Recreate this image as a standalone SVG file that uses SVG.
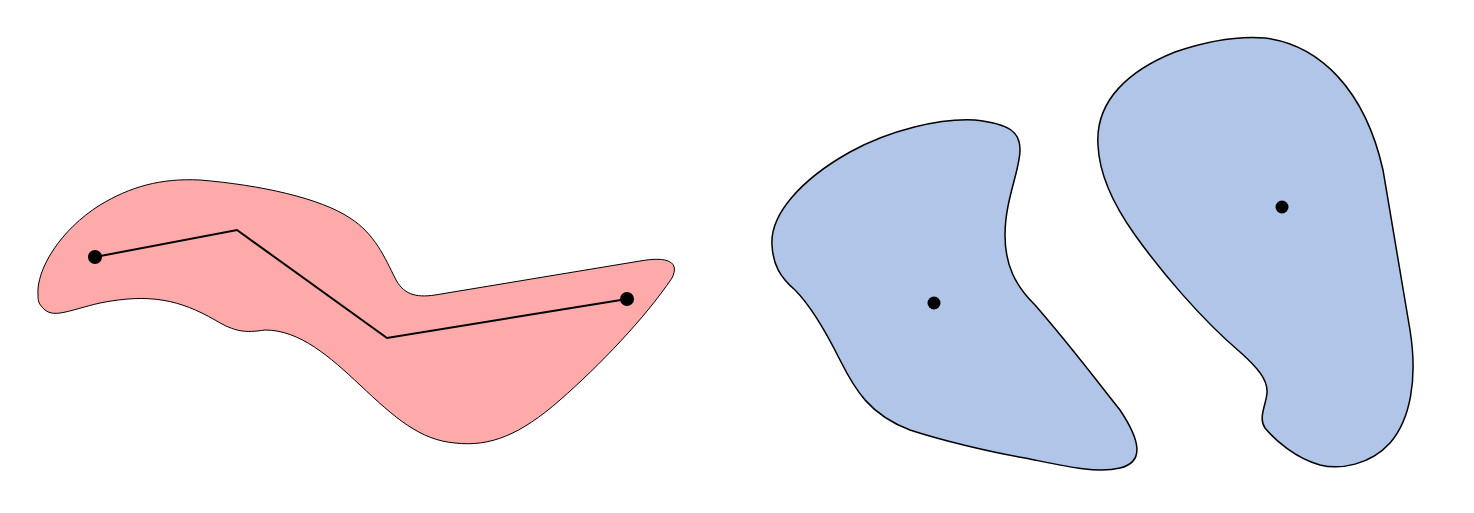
<svg xmlns="http://www.w3.org/2000/svg" width="1474" height="513" viewBox="0 0 1474 513">
<style>
.blob{stroke:#000}
.red{fill:#fea9aa;stroke-width:1}
.blue{fill:#b0c5e7;stroke-width:1.5}
.dot{fill:#000}
.path{fill:none;stroke:#000;stroke-width:2}
</style>
<rect width="1474" height="513" fill="#fff"/>
<g id="red-region">
<path class="blob red" d="M 38,295 C 36,270 60,230 100,205 C 130,187 160,178 200,180 C 260,185 320,198 350,218 C 375,234 385,258 395,278 C 403,294 415,298 435,295 L 640,261 C 668,256 680,262 672,278 C 645,318 600,365 560,400 C 520,435 490,447 455,443 C 420,440 395,418 360,385 C 330,357 300,330 265,330 C 245,333 235,332 215,320 C 180,300 150,293 100,303 C 70,310 55,318 45,310 C 38,304 38,300 38,295 Z"/>
</g>
<g id="connectors">
<path class="path" d="M95,257 L237,230 L387,338 L627,299"/>
</g>
<g id="red-dots">
<circle class="dot" cx="95" cy="257" r="7"/>
<circle class="dot" cx="627" cy="299" r="7"/>
</g>
<g id="blue-region-1">
<path class="blob blue" d="M 772,245 C 770,215 800,180 850,152 C 890,130 940,118 975,120 C 1010,124 1020,132 1020,150 C 1020,170 1005,200 1005,235 C 1005,265 1015,285 1035,305 C 1070,345 1100,385 1120,410 C 1140,440 1145,462 1120,468 C 1095,474 1060,465 1025,458 C 990,452 940,440 910,430 C 870,415 855,390 840,360 C 825,330 810,305 795,290 C 780,277 773,265 772,245 Z"/>
<circle class="dot" cx="934" cy="303" r="6.5"/>
</g>
<g id="blue-region-2">
<path class="blob blue" d="M 1098,145 C 1095,100 1130,70 1175,52 C 1210,40 1240,36 1265,38 C 1320,45 1365,90 1383,170 L 1410,330 C 1418,380 1410,420 1390,443 C 1370,465 1340,470 1320,465 C 1295,458 1275,440 1265,428 C 1258,418 1266,405 1267,393 C 1268,380 1258,368 1240,352 C 1200,318 1160,270 1135,235 C 1110,200 1099,170 1098,145 Z"/>
<circle class="dot" cx="1282" cy="207" r="6.5"/>
</g>
</svg>
